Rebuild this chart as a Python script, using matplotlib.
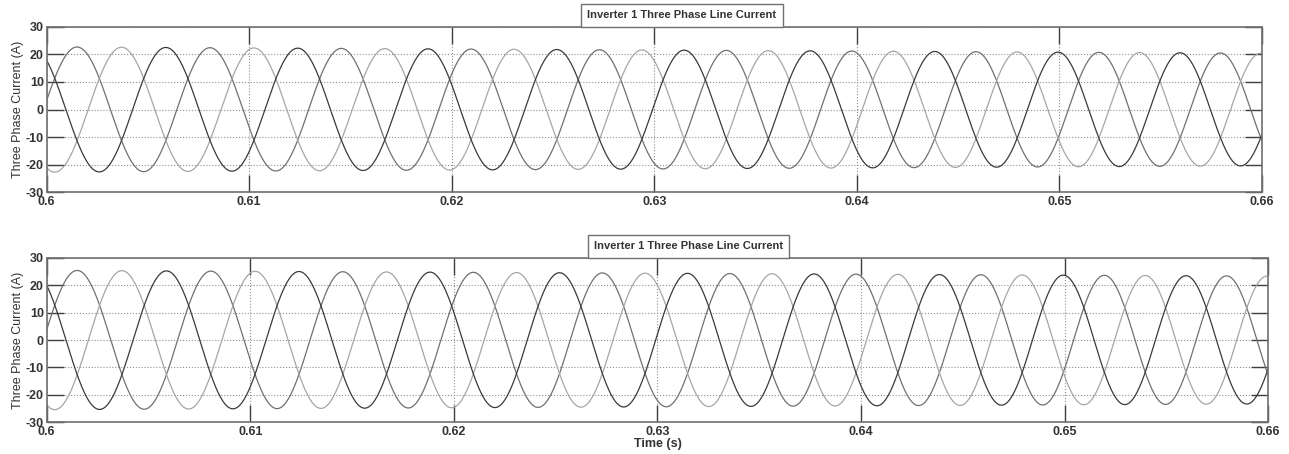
import matplotlib
matplotlib.use('Agg')
import matplotlib.pyplot as plt
import numpy as np

# values
t_start, t_end = 0.6, 0.66
freq_start, freq_end = 151.0, 168.0       # Hz, the trace speeds up slightly
t_first_peak = 0.6015                      # first peak of the mid-grey phase
amp_top = [22.7, 20.4]                     # amplitude at start / end, upper plot
amp_bottom = [25.4, 23.3]                  # amplitude at start / end, lower plot
phase_shift = [0, -120, -240]              # degrees: mid-grey, light, dark
phase_colors = ['#707070', '#a6a6a6', '#3a3a3a']

title = 'Inverter 1 Three Phase Line Current'
ylabel = 'Three Phase Current (A)'
xticks = [0.6, 0.61, 0.62, 0.63, 0.64, 0.65, 0.66]
xticklabels = ['0.6', '0.61', '0.62', '0.63', '0.64', '0.65', '0.66']
yticks = [-30, -20, -10, 0, 10, 20, 30]

t = np.linspace(t_start, t_end, 6000)
span = t_end - t_start


def cycles(tt):
    tau = tt - t_start
    return freq_start * tau + (freq_end - freq_start) / (2 * span) * tau ** 2


phi = 2 * np.pi * (cycles(t) - cycles(t_first_peak))

plt.rcParams['font.family'] = ['Liberation Sans', 'DejaVu Sans']
plt.rcParams['axes.unicode_minus'] = False

fig = plt.figure(figsize=(12.89, 4.54), dpi=100)
ax1 = fig.add_axes([0.0362, 0.5764, 0.9428, 0.3648])
ax2 = fig.add_axes([0.0362, 0.0698, 0.9477, 0.3626])

for ax, amp, tx in [(ax1, amp_top, 0.5228), (ax2, amp_bottom, 0.5254)]:
    a = amp[0] + (amp[1] - amp[0]) * (t - t_start) / span
    for sh, c in zip(phase_shift, phase_colors):
        ax.plot(t, a * np.sin(phi + np.pi / 2 + np.deg2rad(sh)), color=c, lw=0.9)
    ax.set_xlim(t_start, t_end)
    ax.set_ylim(-30, 30)
    ax.set_xticks(xticks)
    ax.set_xticklabels(xticklabels)
    ax.set_yticks(yticks)
    ax.grid(True, linestyle=':', color='#909090', lw=0.8)
    ax.tick_params(direction='in', length=12, width=1, color='#404040',
                   top=True, right=True, labelsize=9)
    ax.tick_params(axis='x', pad=3)
    ax.tick_params(axis='y', pad=2)
    for lab in ax.get_xticklabels() + ax.get_yticklabels():
        lab.set_fontweight('bold')
        lab.set_color('#333333')
    for s in ax.spines.values():
        s.set_color('#707070')
        s.set_linewidth(1.2)
    ax.set_ylabel(ylabel, fontsize=9, labelpad=1, color='#333333')
    ax.annotate(title, xy=(tx, 1.0), xycoords='axes fraction',
                xytext=(0, 4.5), textcoords='offset points',
                ha='center', va='bottom', fontsize=8, fontweight='bold', color='#333333',
                bbox=dict(boxstyle='square,pad=0.55', fc='white', ec='#707070', lw=1))

ax2.set_xlabel('Time (s)', fontsize=9, fontweight='bold', labelpad=0, color='#333333')

fig.savefig('out.png', dpi=100)
